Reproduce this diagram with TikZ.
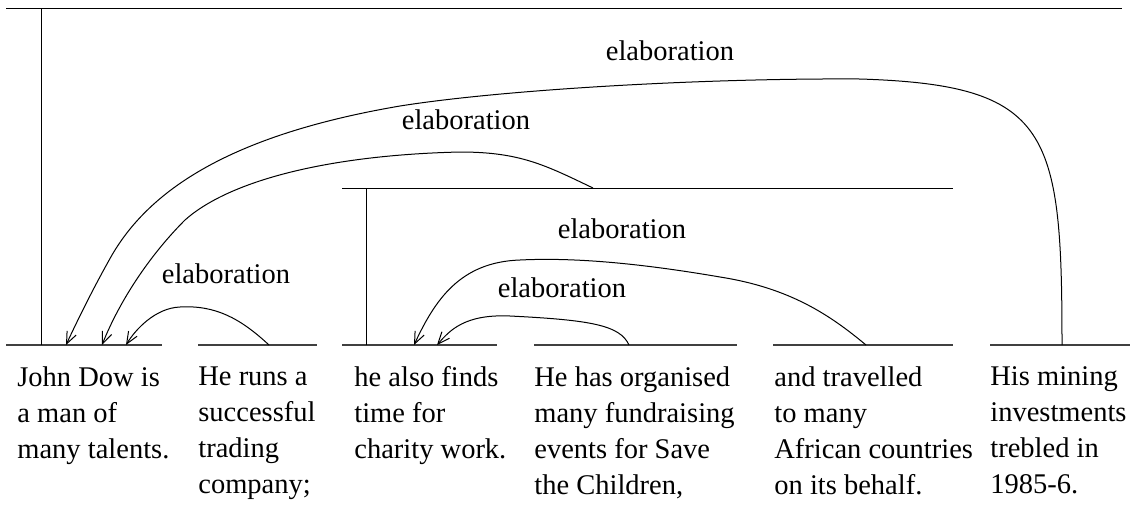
\documentclass[tikz,border=0pt]{standalone}
\usepackage{fontspec}
\setmainfont{Liberation Serif}
\usepackage{tikz}
\usetikzlibrary{arrows.meta}
\tikzset{
  >={Straight Barb[length=6pt, width=5pt]},
  bar/.style={
    line width=0.6pt, draw=black!75
  },
  span/.style={
    line width=0.5pt, draw=black
  },
  rel/.style={
    line width=0.5pt, draw=black, ->
  },
  relname/.style={
    anchor=base, inner sep=0pt,
    font=\fontsize{14.25}{18}\selectfont
  },
  edu/.style={
    anchor=north west, align=left, inner sep=0pt,
    font=\fontsize{14.25}{18}\selectfont
  },
}

\begin{document}
\begin{tikzpicture}[x=0.5pt, y=-0.5pt]
\useasboundingbox (0,0) rectangle (1130,515);

% segment texts
\node[edu] (john)    at (17, 366)  {John Dow is\\a man of\\many talents.};
\node[edu] (runs)    at (198, 366) {He runs a\\successful\\trading\\company;};
\node[edu] (charity) at (354, 366) {he also finds\\time for\\charity work.};
\node[edu] (fundr)   at (534, 366) {He has organised\\many fundraising\\events for Save\\the Children,};
\node[edu] (travel)  at (774, 366) {and travelled\\to many\\African countries\\on its behalf.};
\node[edu] (mining)  at (990, 366) {His mining\\investments\\trebled in\\1985-6.};

% bars over the segments
\foreach \a/\b in {6/162, 198/317, 342/497, 534/737, 773/953, 990/1130} {
  \draw[bar] (\a, 345) -- (\b, 345);
}

% spans
\draw[span] (6, 8) -- (1122, 8);
\draw[span] (41, 8) -- (41, 345);
\draw[span] (342, 188) -- (953, 188);
\draw[span] (366, 188) -- (366, 345);

% attachment points
\coordinate (john-in1)    at (66, 345);
\coordinate (john-in2)    at (102, 345);
\coordinate (john-in3)    at (126, 345);
\coordinate (runs-out)    at (269, 345);
\coordinate (charity-in1) at (414, 345);
\coordinate (charity-in2) at (437, 345);
\coordinate (fundr-out)   at (629, 345);
\coordinate (travel-out)  at (866, 345);
\coordinate (mining-out)  at (1062, 345);
\coordinate (mid-out)     at (593, 188);

% relations
\draw[rel] (mining-out) .. controls (1062, 130) and (1050, 85) .. (860, 79)
  .. controls (700, 78) and (500, 90) .. (400, 106)
  .. controls (230, 135) and (150, 190) .. (112, 255)
  .. controls (95, 285) and (80, 315) .. (john-in1);
\draw[rel] (mid-out) .. controls (545, 165) and (520, 152) .. (460, 152)
  .. controls (330, 155) and (230, 180) .. (185, 220)
  .. controls (150, 255) and (120, 300) .. (john-in2);
\draw[rel] (runs-out) .. controls (240, 318) and (215, 305) .. (180, 307)
  .. controls (155, 308) and (135, 330) .. (john-in3);
\draw[rel] (travel-out) .. controls (830, 315) and (790, 288) .. (720, 277)
  .. controls (650, 265) and (580, 257) .. (520, 260)
  .. controls (460, 262) and (435, 300) .. (charity-in1);
\draw[rel] (fundr-out) .. controls (620, 325) and (590, 320) .. (510, 316)
  .. controls (465, 314) and (450, 330) .. (charity-in2);

% relation names
\node[relname] (el-top)    at (670, 60)  {elaboration};
\node[relname] (el-mid)    at (466, 129) {elaboration};
\node[relname] (el-runs)   at (226, 283) {elaboration};
\node[relname] (el-travel) at (622, 238) {elaboration};
\node[relname] (el-fundr)  at (562, 297) {elaboration};

\end{tikzpicture}
\end{document}
